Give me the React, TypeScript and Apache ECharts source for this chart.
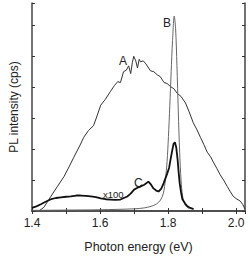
import React, { useEffect, useRef } from "react";
import * as echarts from "echarts";

const xA = [1.42, 1.435, 1.456, 1.475, 1.494, 1.51, 1.523, 1.54, 1.552, 1.566, 1.581, 1.592, 1.602, 1.615, 1.631, 1.642, 1.652, 1.66, 1.669, 1.677, 1.684, 1.69, 1.695, 1.699, 1.705, 1.71, 1.715, 1.719, 1.727, 1.735, 1.748, 1.758, 1.768, 1.777, 1.788, 1.797, 1.807, 1.817, 1.827, 1.838, 1.851, 1.862, 1.874, 1.885, 1.895, 1.905, 1.915, 1.925, 1.933, 1.943, 1.953, 1.963, 1.974, 1.983, 1.991, 2.0, 2.012, 2.02, 2.026];
const yA = [0.0, 0.12, 0.48, 0.8, 1.11, 1.45, 1.74, 2.1, 2.38, 2.6, 2.76, 3.1, 3.42, 3.6, 3.87, 4.05, 4.18, 4.15, 4.5, 4.55, 4.69, 4.44, 4.8, 5.0, 4.85, 4.62, 4.9, 4.82, 4.85, 4.75, 4.53, 4.5, 4.4, 4.34, 4.15, 4.12, 4.02, 3.95, 3.8, 3.7, 3.49, 3.2, 2.85, 2.62, 2.38, 2.15, 1.9, 1.75, 1.58, 1.38, 1.17, 1.0, 0.79, 0.62, 0.48, 0.4, 0.32, 0.2, 0.06];

const xB = [1.4, 1.5, 1.6, 1.7, 1.73, 1.75, 1.765, 1.777, 1.786, 1.792, 1.797, 1.801, 1.805, 1.809, 1.813, 1.818, 1.822, 1.826, 1.83, 1.834, 1.838, 1.843, 1.85, 1.86];
const yB = [0.02, 0.03, 0.04, 0.07, 0.1, 0.15, 0.22, 0.34, 0.57, 1.0, 1.6, 2.4, 3.4, 4.5, 5.5, 6.3, 5.9, 4.7, 3.2, 1.9, 1.0, 0.45, 0.2, 0.08];

const xC = [1.4, 1.413, 1.426, 1.44, 1.456, 1.47, 1.485, 1.5, 1.514, 1.53, 1.543, 1.558, 1.573, 1.588, 1.602, 1.617, 1.631, 1.645, 1.66, 1.67, 1.68, 1.69, 1.7, 1.71, 1.719, 1.73, 1.742, 1.75, 1.757, 1.765, 1.772, 1.78, 1.787, 1.797, 1.803, 1.807, 1.812, 1.816, 1.82, 1.824, 1.828, 1.831, 1.834, 1.838, 1.842, 1.85, 1.856, 1.865, 1.875];
const yC = [0.1, 0.15, 0.22, 0.3, 0.38, 0.42, 0.44, 0.46, 0.47, 0.5, 0.5, 0.49, 0.47, 0.45, 0.41, 0.38, 0.37, 0.36, 0.37, 0.42, 0.47, 0.56, 0.69, 0.75, 0.79, 0.85, 0.95, 0.85, 0.73, 0.66, 0.63, 0.72, 0.9, 1.2, 1.4, 1.65, 1.95, 2.17, 2.22, 2.05, 1.65, 1.25, 0.9, 0.6, 0.38, 0.24, 0.16, 0.1, 0.06];

const xTicks = ["1.4", "1.6", "1.8", "2.0"];

const pairs = (xs: number[], ys: number[]) => xs.map((x, i) => [x, ys[i]]);

export default function App() {
  const ref = useRef<HTMLDivElement>(null);
  useEffect(() => {
    if (!ref.current) return;
    const chart = echarts.init(ref.current, null, { renderer: "svg" });
    const font = "Liberation Sans, Arial, sans-serif";
    const tickStyle = { show: true, inside: true, length: 3, lineStyle: { color: "#333", width: 1 } };
    const lineStyle = { color: "#444", width: 1.5 };
    chart.setOption({
      animation: false,
      grid: { left: 31, top: 3, right: 5, bottom: 43 },
      xAxis: [
        {
          type: "value",
          min: 1.4,
          max: 2.026,
          interval: 0.1,
          axisLine: { show: true, lineStyle },
          axisTick: tickStyle,
          splitLine: { show: false },
          axisLabel: {
            margin: 6,
            fontSize: 12,
            color: "#222",
            fontFamily: font,
            showMaxLabel: false,
            formatter: (v: number) => {
              const s = v.toFixed(1);
              return xTicks.includes(s) ? s : "";
            },
          },
          name: "Photon energy (eV)",
          nameLocation: "middle",
          nameGap: 29,
          nameTextStyle: { fontSize: 12.5, color: "#222", fontFamily: font },
        },
        {
          type: "value",
          position: "top",
          min: 1.4,
          max: 2.026,
          interval: 0.1,
          axisLine: { show: true, lineStyle },
          axisTick: tickStyle,
          axisLabel: { show: false },
          splitLine: { show: false },
        },
      ],
      yAxis: [
        {
          type: "value",
          min: 0,
          max: 6.72,
          interval: 1,
          axisLine: { show: true, lineStyle },
          axisTick: tickStyle,
          axisLabel: { show: false },
          splitLine: { show: false },
          name: "PL intensity (cps)",
          nameLocation: "middle",
          nameGap: 12,
          nameTextStyle: { fontSize: 12, color: "#222", fontFamily: font },
        },
        {
          type: "value",
          position: "right",
          min: 0,
          max: 6.72,
          interval: 1,
          axisLine: { show: true, lineStyle },
          axisTick: tickStyle,
          axisLabel: { show: false },
          splitLine: { show: false },
        },
      ],
      series: [
        {
          type: "line",
          name: "A",
          data: pairs(xA, yA),
          showSymbol: false,
          lineStyle: { color: "#333", width: 1 },
        },
        {
          type: "line",
          name: "B",
          data: pairs(xB, yB),
          showSymbol: false,
          smooth: 0.3,
          lineStyle: { color: "#666", width: 1 },
        },
        {
          type: "line",
          name: "C",
          data: pairs(xC, yC),
          showSymbol: false,
          lineStyle: { color: "#111", width: 1.8 },
        },
      ],
      graphic: [
        { type: "text", left: 119, top: 55, style: { text: "A", fontSize: 12, fill: "#222", fontFamily: font } },
        { type: "text", left: 163, top: 17, style: { text: "B", fontSize: 12, fill: "#222", fontFamily: font } },
        { type: "text", left: 134, top: 177, style: { text: "C", fontSize: 12, fill: "#222", fontFamily: font } },
        { type: "text", left: 103, top: 189, style: { text: "x100", fontSize: 9.5, fill: "#222", fontFamily: font } },
      ],
    });
    return () => chart.dispose();
  }, []);
  return <div ref={ref} style={{ width: 250, height: 258, position: "absolute", left: 0, top: 0 }} />;
}
